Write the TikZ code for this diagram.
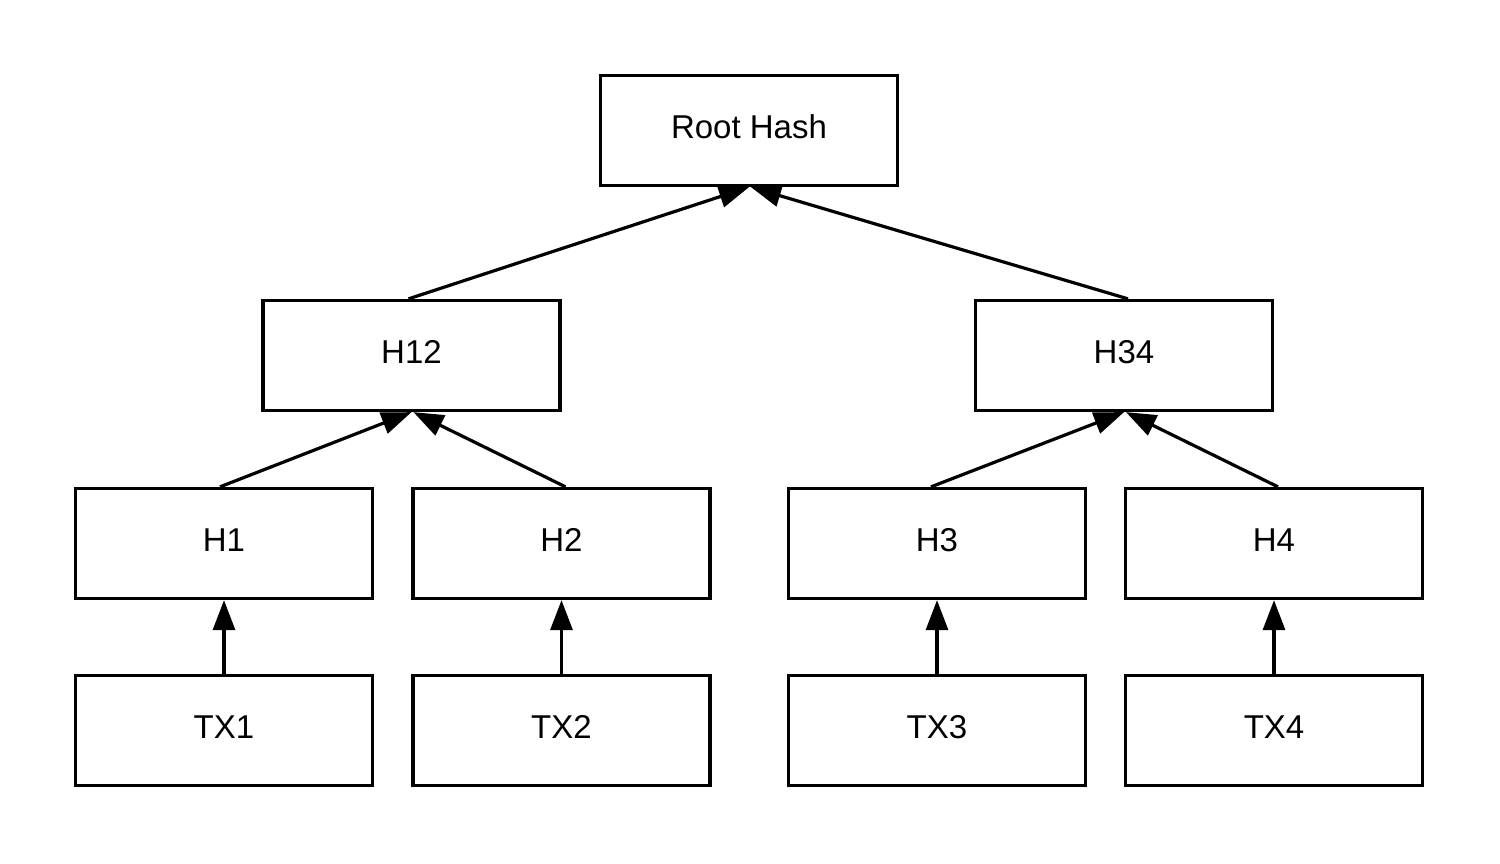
\documentclass[tikz,border=0pt]{standalone}
\usepackage{fontspec}
\setmainfont{Liberation Sans}
\usetikzlibrary{arrows.meta}
\begin{document}
\begin{tikzpicture}[x=1pt,y=-1pt,
  box/.style={draw=black,line width=3.3pt,minimum width=297pt,minimum height=110pt,inner sep=0pt,text height=23.5pt,text depth=7pt,font=\fontsize{33}{39}\selectfont},
  link/.style={line width=3.2pt,-{Triangle[length=30pt,width=22pt]}}]
\useasboundingbox (0,0) rectangle (1500,863);
\node[box] (root) at (749,130.5) {Root Hash};
\node[box] (h12) at (411.5,355.5) {H12};
\node[box] (h34) at (1124,355.5) {H34};
\node[box] (h1) at (224,543.5) {H1};
\node[box] (h2) at (561.5,543.5) {H2};
\node[box] (h3) at (937,543.5) {H3};
\node[box] (h4) at (1274,543.5) {H4};
\node[box] (tx1) at (224,730.5) {TX1};
\node[box] (tx2) at (561.5,730.5) {TX2};
\node[box] (tx3) at (937,730.5) {TX3};
\node[box] (tx4) at (1274,730.5) {TX4};
\draw[link] ([xshift=-3pt]h12.north) -- (root.south);
\draw[link] ([xshift=4pt]h34.north) -- ([xshift=2pt]root.south);
\draw[link] ([xshift=-4pt]h1.north) -- (h12.south);
\draw[link] ([xshift=4pt]h2.north) -- ([xshift=2pt]h12.south);
\draw[link] ([xshift=-6pt]h3.north) -- (h34.south);
\draw[link] ([xshift=4pt]h4.north) -- ([xshift=2pt]h34.south);
\draw[link] (tx1.north) -- (h1.south);
\draw[link] (tx2.north) -- (h2.south);
\draw[link] (tx3.north) -- (h3.south);
\draw[link] (tx4.north) -- (h4.south);
\end{tikzpicture}
\end{document}
